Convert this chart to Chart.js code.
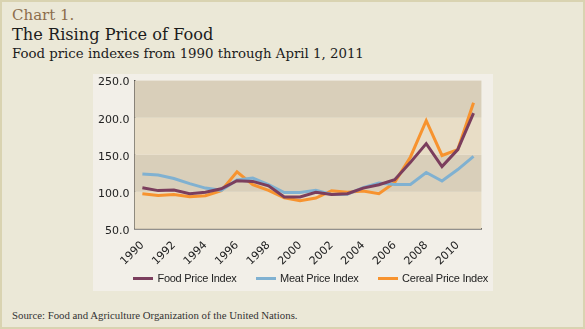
<!DOCTYPE html>
<html>
<head>
<meta charset="utf-8">
<script src="https://cdn.jsdelivr.net/npm/chart.js@4.4.1/dist/chart.umd.min.js"></script>
<style>
  html, body { margin: 0; padding: 0; }
  body { width: 585px; height: 329px; overflow: hidden; }
  #frame {
    position: relative; width: 585px; height: 329px; box-sizing: border-box;
    background: #ebe8d7; border: 2px solid #d9d3b1;
  }
  .txt { position: absolute; left: 10px; white-space: nowrap; font-family: "DejaVu Serif", serif; }
  #kicker { top: 4px; font-size: 15px; line-height: 18px; color: #8b6d4c; }
  #title { top: 24px; font-size: 16.2px; line-height: 18px; color: #1c1c1c; }
  #subtitle { top: 44px; font-size: 13.3px; line-height: 16px; color: #1c1c1c; }
  #source { top: 307px; font-family: "Liberation Serif", serif; font-size: 10.8px; line-height: 12px; color: #333; }
  #panel { position: absolute; left: 91px; top: 72px; width: 400px; height: 217px; background: #f2efe8; }
  #chart { position: absolute; left: 91px; top: 67px; }
  #legend {
    position: absolute; left: 132px; width: 353px; top: 269px; height: 14px;
    display: flex; justify-content: center; align-items: center; white-space: nowrap;
    font-family: "Liberation Sans", sans-serif; font-size: 11px; letter-spacing: -0.25px; color: #222;
  }
  #legend .item { display: flex; align-items: center; flex-shrink: 0; margin: 0 9.5px; }
  #legend .swatch { width: 20px; height: 3px; margin-right: 4.5px; }
</style>
</head>
<body>
<div id="frame">
  <div class="txt" id="kicker">Chart 1.</div>
  <div class="txt" id="title">The Rising Price of Food</div>
  <div class="txt" id="subtitle">Food price indexes from 1990 through April 1, 2011</div>
  <div id="panel"></div>
  <canvas id="chart" width="400" height="222"></canvas>
  <div id="legend"></div>
  <div class="txt" id="source">Source: Food and Agriculture Organization of the United Nations.</div>
</div>
<script>
const years = ["1990", "1991", "1992", "1993", "1994", "1995", "1996", "1997", "1998", "1999", "2000",
  "2001", "2002", "2003", "2004", "2005", "2006", "2007", "2008", "2009", "2010", "2011"];

const foodIndex = [105.6, 101.6, 102.5, 97.5, 99.3, 104, 115, 114, 108, 93, 93,
  99.3, 96.5, 97.5, 105, 109.6, 116.4, 139.7, 165, 134, 157, 206];
const meatIndex = [124, 122.7, 118, 111, 105, 102, 116, 118.6, 109.6, 99, 99,
  102, 96.5, 96.6, 105.6, 112, 110, 110, 126, 114.6, 130, 147.7];
const cerealIndex = [97.5, 95, 96.5, 93.5, 94.8, 101.5, 127, 109.5, 102, 92, 88,
  91.5, 101.5, 99.3, 101, 97.5, 112.7, 147, 196, 149, 157, 220];

const seriesNames = ["Food Price Index", "Meat Price Index", "Cereal Price Index"];
const seriesColours = ["#7b3e5d", "#80b1d1", "#f7932f"];

// alternating shaded bands behind the lines
const bandPlugin = {
  id: "bands",
  beforeDatasetsDraw(chart) {
    const { ctx, chartArea, scales } = chart;
    const y = scales.y;
    const bands = [[50, 100, "#e8ddc6"], [100, 150, "#d9cfba"], [150, 200, "#e8ddc6"], [200, 250, "#d9cfba"]];
    ctx.save();
    bands.forEach(([lo, hi, col]) => {
      const top = y.getPixelForValue(hi);
      const bottom = y.getPixelForValue(lo);
      ctx.fillStyle = col;
      ctx.fillRect(chartArea.left, top, chartArea.right - chartArea.left, bottom - top);
    });
    ctx.restore();
  },
};

const datasets = [foodIndex, meatIndex, cerealIndex].map((values, i) => {
  return {
    label: seriesNames[i],
    data: values,
    borderColor: seriesColours[i],
    backgroundColor: seriesColours[i],
    borderWidth: 3,
    pointRadius: 0,
    tension: 0,
  };
});

Chart.defaults.font.family = "DejaVu Sans";
Chart.defaults.color = "#222";

const chart = new Chart(document.getElementById("chart"), {
  type: "line",
  data: { labels: years, datasets: datasets },
  plugins: [bandPlugin],
  options: {
    responsive: false,
    animation: false,
    devicePixelRatio: 1,
    layout: { padding: { left: 0, right: 6, top: 0, bottom: 13 } },
    plugins: {
      legend: { display: false },
      tooltip: { enabled: false },
    },
    scales: {
      x: {
        type: "category",
        offset: true,
        grid: { display: false, drawTicks: false },
        border: { display: true, color: "#333", width: 1.5 },
        ticks: {
          autoSkip: false,
          minRotation: 45,
          maxRotation: 45,
          padding: 10,
          font: { size: 11 },
          callback: function (value, index) {
            return index % 2 === 0 ? this.getLabelForValue(value) : "";
          },
        },
      },
      y: {
        min: 50,
        max: 250,
        grid: { display: false, drawTicks: false },
        border: { display: true, color: "#333", width: 1.5 },
        ticks: {
          stepSize: 50,
          padding: 5,
          labelOffset: 2,
          font: { size: 11 },
          callback: (v) => v.toFixed(1),
        },
      },
    },
  },
});

// legend under the plot, built from the chart's datasets
const legendEl = document.getElementById("legend");
chart.data.datasets.forEach((ds) => {
  const item = document.createElement("div");
  item.className = "item";
  const sw = document.createElement("div");
  sw.className = "swatch";
  sw.style.background = ds.borderColor;
  const label = document.createElement("span");
  label.textContent = ds.label;
  item.appendChild(sw);
  item.appendChild(label);
  legendEl.appendChild(item);
});
</script>
</body>
</html>
